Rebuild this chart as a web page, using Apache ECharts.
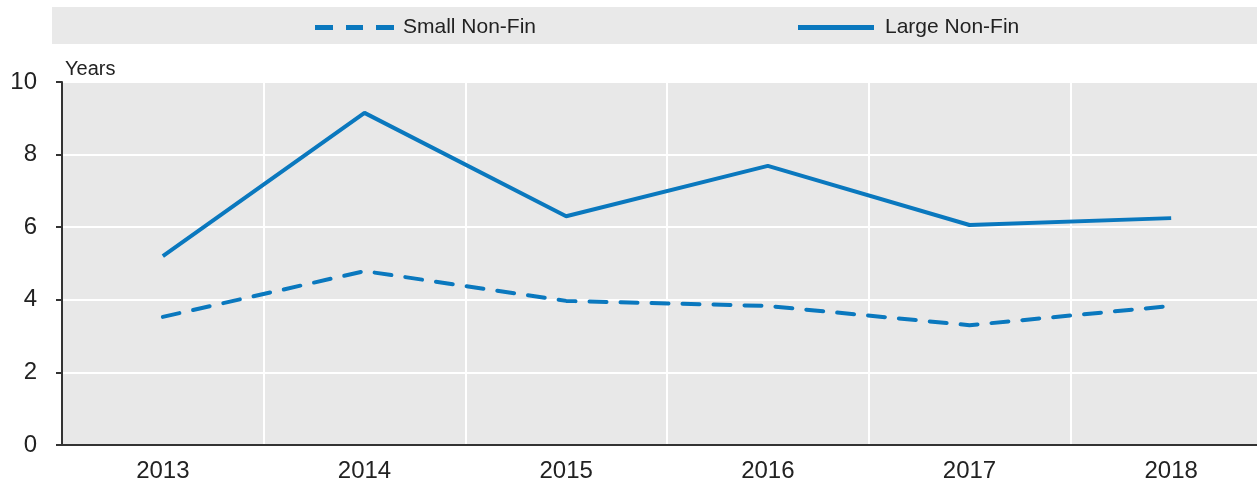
<!DOCTYPE html>
<html>
<head>
<meta charset="utf-8">
<script src="https://cdn.jsdelivr.net/npm/echarts@6/dist/echarts.min.js"></script>
<style>
  html, body { margin: 0; padding: 0; background: #fff; overflow: hidden; }
  /* plot runs past the right edge of the window, as in the source */
  #chart { width: 1272px; height: 484px; }
</style>
</head>
<body>
<div id="chart"></div>
<script>
const years = ['2013', '2014', '2015', '2016', '2017', '2018']
const smallNonFin = [3.53, 4.79, 3.97, 3.83, 3.3, 3.83]
const largeNonFin = [5.2, 9.15, 6.3, 7.69, 6.06, 6.25]
const yTicks = { min: 0, max: 10, interval: 2 }

const FONT = '"Liberation Sans", Arial, sans-serif'
const BLUE = '#0a78be'

// legend icons: three short dashes / one solid bar
const DASH_ICON = 'path://M0,0h18v5h-18z M31,0h17v5h-17z M61,0h18v5h-18z'
const SOLID_ICON = 'path://M0,0h76v5h-76z'

const chart = echarts.init(document.getElementById('chart'))
chart.setOption({
  animation: false,
  textStyle: { fontFamily: FONT },
  graphic: [
    {
      type: 'rect',
      shape: { x: 52, y: 7, width: 1220, height: 37 },
      style: { fill: '#e9e9e9' },
      z: -10,
    },
  ],
  legend: [
    {
      data: [{ name: 'Small Non-Fin', icon: DASH_ICON }],
      left: 315,
      top: 17,
      padding: 0,
      itemWidth: 79,
      itemHeight: 5,
      textStyle: { fontSize: 21, color: '#222', fontFamily: FONT, padding: [0, 0, 0, 4] },
    },
    {
      data: [{ name: 'Large Non-Fin', icon: SOLID_ICON }],
      left: 798,
      top: 17,
      padding: 0,
      itemWidth: 76,
      itemHeight: 5,
      textStyle: { fontSize: 21, color: '#222', fontFamily: FONT, padding: [0, 0, 0, 6] },
    },
  ],
  grid: {
    left: 62,
    top: 82,
    bottom: 39,
    right: 0,
    show: true,
    backgroundColor: '#e8e8e8',
    borderWidth: 0,
  },
  xAxis: {
    type: 'category',
    data: years,
    boundaryGap: true,
    axisLine: { lineStyle: { color: '#333', width: 2 } },
    axisTick: { show: false },
    axisLabel: { fontSize: 24, color: '#222', margin: 14, fontFamily: FONT },
    splitLine: { show: true, lineStyle: { color: '#fff', width: 2 } },
  },
  yAxis: {
    type: 'value',
    min: yTicks.min,
    max: yTicks.max,
    interval: yTicks.interval,
    name: 'Years',
    nameLocation: 'end',
    nameGap: 3,
    nameTextStyle: { fontSize: 20, color: '#222', align: 'left', padding: [0, 0, 0, 3], fontFamily: FONT },
    axisLine: { show: true, lineStyle: { color: '#333', width: 2 } },
    axisTick: { show: true, length: 6, lineStyle: { color: '#333', width: 2 } },
    axisLabel: { fontSize: 24, color: '#222', margin: 25, fontFamily: FONT },
    splitLine: { show: true, lineStyle: { color: '#fff', width: 2 } },
  },
  series: [
    {
      name: 'Small Non-Fin',
      type: 'line',
      data: smallNonFin,
      symbol: 'none',
      lineStyle: { color: BLUE, width: 4, type: [17, 14], cap: 'round' },
      itemStyle: { color: BLUE },
    },
    {
      name: 'Large Non-Fin',
      type: 'line',
      data: largeNonFin,
      symbol: 'none',
      lineStyle: { color: BLUE, width: 4 },
      itemStyle: { color: BLUE },
    },
  ],
})
</script>
</body>
</html>
